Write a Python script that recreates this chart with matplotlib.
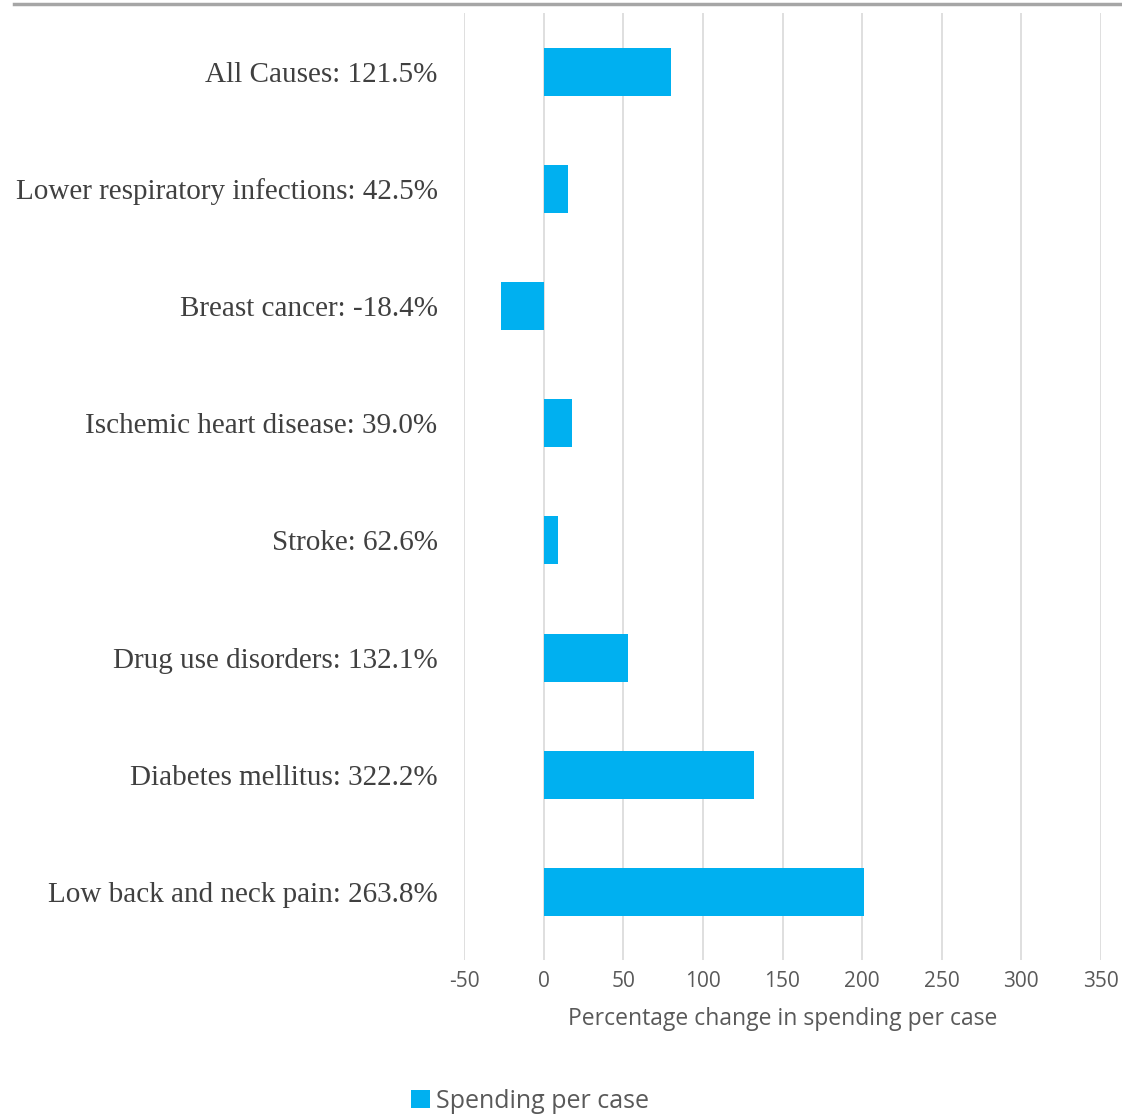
import matplotlib.pyplot as plt
from matplotlib.lines import Line2D

causes = ['All Causes: 121.5%', 'Lower respiratory infections: 42.5%', 'Breast cancer: -18.4%',
          'Ischemic heart disease: 39.0%', 'Stroke: 62.6%', 'Drug use disorders: 132.1%',
          'Diabetes mellitus: 322.2%', 'Low back and neck pain: 263.8%']
spending = [80, 15, -27, 18, 9, 53, 132, 201]
xticks = [-50, 0, 50, 100, 150, 200, 250, 300, 350]

W, H = 1122, 1116
fig = plt.figure(figsize=(W / 100, H / 100), dpi=100)
ax = fig.add_axes([464 / W, 1 - 960 / H, (1101 - 464) / W, (960 - 13) / H])

ypos = list(range(len(causes)))
ax.barh(ypos, spending, height=0.41, color='#00B0F0', zorder=3, label='Spending per case')

ax.set_xlim(-50, 350)
ax.set_ylim(7.58, -0.5)
ax.set_xticks(xticks)
ax.set_xticklabels([str(v) for v in xticks], family='Open Sans', fontsize=15, color='#595959')
ax.set_yticks(ypos)
ax.set_yticklabels(causes, family='Liberation Serif', fontsize=21, color='#404040')
ax.tick_params(axis='both', length=0)
ax.tick_params(axis='y', pad=19)
ax.tick_params(axis='x', pad=8)
for s in ax.spines.values():
    s.set_visible(False)
ax.grid(axis='x', color='#d9d9d9', linewidth=1.2, zorder=0)
ax.set_axisbelow(True)

ax.set_xlabel('Percentage change in spending per case', family='Open Sans', fontsize=16.5,
              color='#595959', labelpad=11)

# thin gray rule along the top
fig.add_artist(Line2D([14 / W, 1], [1 - 4 / H, 1 - 4 / H], color='#a6a6a6', linewidth=2.5))

fig.legend(loc='center', bbox_to_anchor=(530 / W, 1 - 1101 / H), frameon=False,
           prop={'family': 'Open Sans', 'size': 18}, labelcolor='#595959',
           handlelength=0.75, handleheight=0.75, handletextpad=0.25)

fig.savefig('out.png', dpi=100)
